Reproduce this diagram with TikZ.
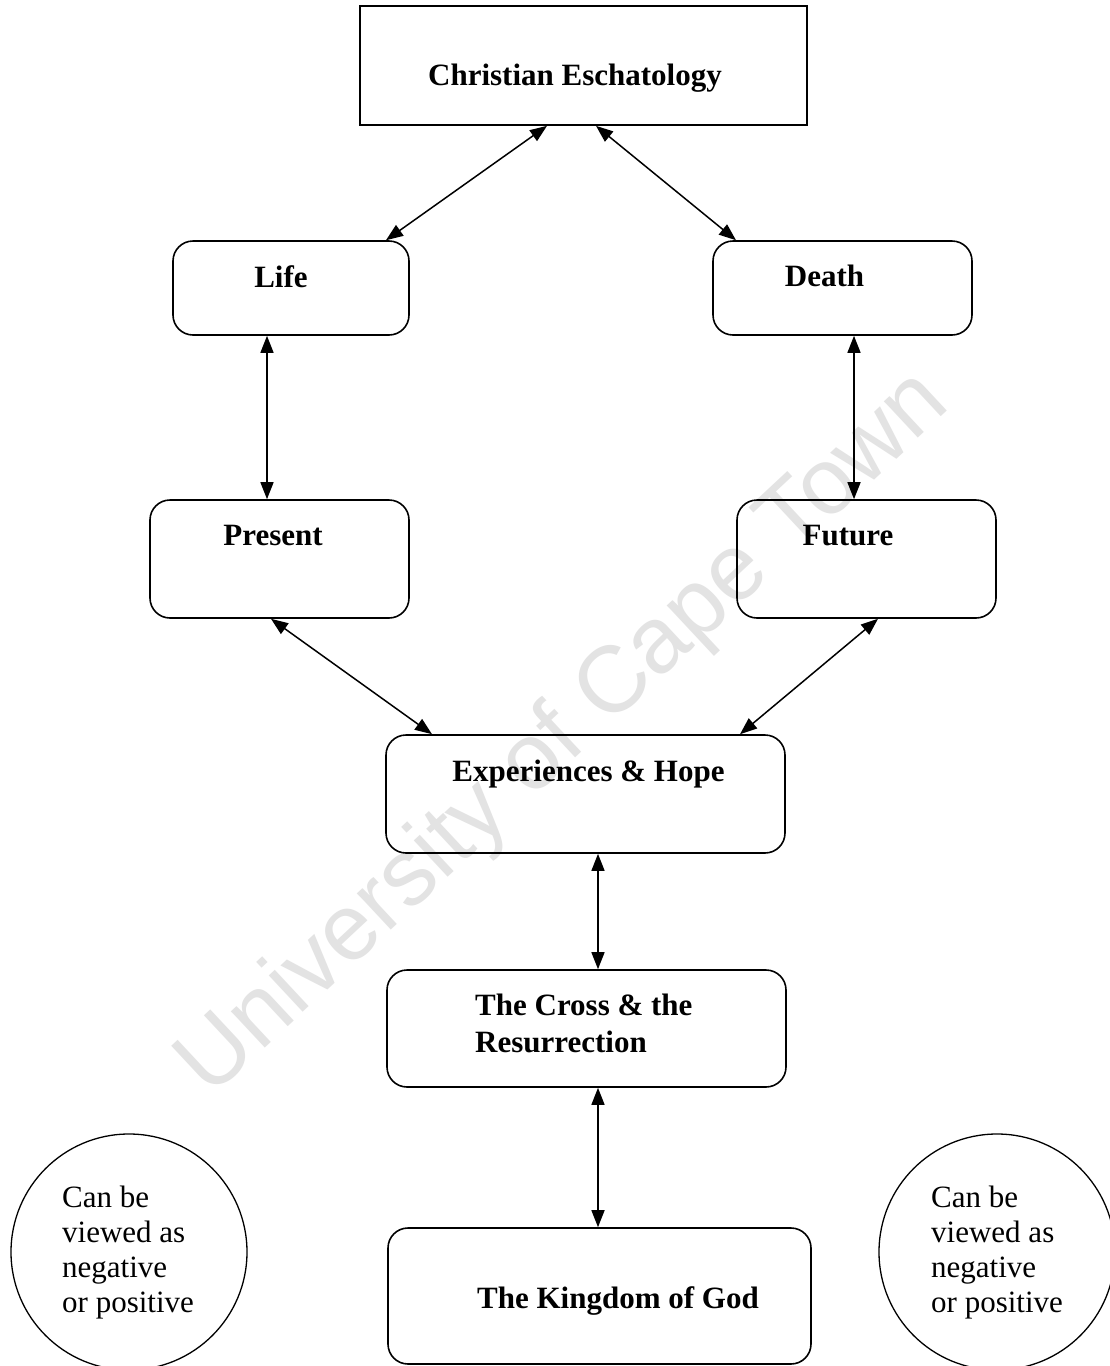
\documentclass[tikz,border=0pt]{standalone}
\usepackage{fontspec}
\setmainfont{Liberation Serif}
\newfontfamily\wmfont{Liberation Sans}
\usetikzlibrary{arrows.meta}
\begin{document}
\begin{tikzpicture}[x=1pt,y=-1pt,
  box/.style={draw,line width=1.6pt,rounded corners=20pt,inner sep=0pt},
  sqbox/.style={draw,line width=1.7pt,inner sep=0pt},
  ring/.style={draw,line width=1.3pt,circle,inner sep=0pt,minimum size=236pt},
  lbl/.style={inner sep=0pt,font=\fontsize{31}{37}\selectfont\bfseries,anchor=base},
  llbl/.style={inner sep=0pt,font=\fontsize{31}{37}\selectfont\bfseries,anchor=base west},
  clbl/.style={inner sep=0pt,font=\fontsize{31}{35}\selectfont,anchor=base west},
  biarr/.style={line width=1.5pt,{Triangle[length=17pt,width=13pt]}-{Triangle[length=17pt,width=13pt]}}
]
\useasboundingbox (0,0) rectangle (1110,1366);
\clip (0,0) rectangle (1110,1366);
\fill[white] (0,0) rectangle (1110,1366);

% watermark
\node[inner sep=0pt,text=black!11,font=\fontsize{94}{100}\selectfont\wmfont,rotate=43] (wm) at (565,735) {University of Cape Town};

% boxes
\node[sqbox,minimum width=447pt,minimum height=119pt] (ce) at (583.5,65.5) {};
\node[box,minimum width=236pt,minimum height=94pt] (life) at (291,288) {};
\node[box,minimum width=259pt,minimum height=94pt] (death) at (842.5,288) {};
\node[box,minimum width=259pt,minimum height=118pt] (present) at (279.5,559) {};
\node[box,minimum width=259pt,minimum height=118pt] (future) at (866.5,559) {};
\node[box,minimum width=399pt,minimum height=118pt] (eh) at (585.5,794) {};
\node[box,minimum width=399pt,minimum height=117pt] (cross) at (586.5,1028.5) {};
\node[box,minimum width=423pt,minimum height=136pt] (kingdom) at (599.5,1296) {};
\node[ring] (lc) at (129,1252) {};
\node[ring] (rc) at (997,1252) {};

% labels
\node[lbl] (ceT) at (575,85) {Christian Eschatology};
\node[lbl] (lifeT) at (281,287) {Life};
\node[lbl] (deathT) at (824.5,286) {Death};
\node[lbl] (presentT) at (273,545) {Present};
\node[lbl] (futureT) at (848,545) {Future};
\node[lbl] (ehT) at (588.5,781) {Experiences \& Hope};
\node[llbl] (crossT) at (475,1015) {\begin{tabular}[t]{@{}l@{}}The Cross \& the\\Resurrection\end{tabular}};
\node[lbl] (kingdomT) at (618,1308) {The Kingdom of God};
\node[clbl] (lcT) at (62,1207) {\begin{tabular}[t]{@{}l@{}}Can be\\viewed as\\negative\\or positive\end{tabular}};
\node[clbl] (rcT) at (931,1207) {\begin{tabular}[t]{@{}l@{}}Can be\\viewed as\\negative\\or positive\end{tabular}};

% connectors
\draw[biarr] ([xshift=-36.5pt]ce.south) -- ([xshift=95pt]life.north);
\draw[biarr] ([xshift=12.5pt]ce.south) -- ([xshift=-106.5pt]death.north);
\draw[biarr] ([xshift=-24pt]life.south) -- ([xshift=-12.5pt]present.north);
\draw[biarr] ([xshift=11.5pt]death.south) -- ([xshift=-12.5pt]future.north);
\draw[biarr] ([xshift=-8.5pt]present.south) -- ([xshift=-153.5pt]eh.north);
\draw[biarr] ([xshift=11.5pt]future.south) -- ([xshift=154.5pt]eh.north);
\draw[biarr] ([xshift=12.5pt]eh.south) -- ([xshift=11.5pt]cross.north);
\draw[biarr] ([xshift=11.5pt]cross.south) -- ([xshift=-1.5pt]kingdom.north);
\end{tikzpicture}
\end{document}
